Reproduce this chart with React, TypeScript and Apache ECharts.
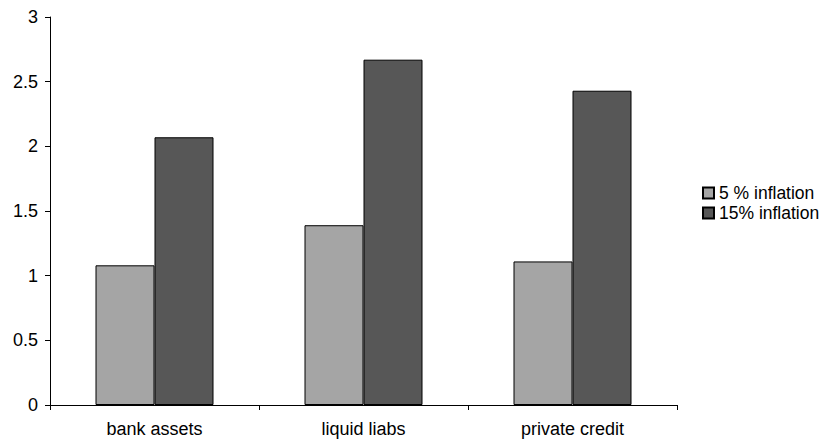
import React, { useEffect, useRef } from "react";
import * as echarts from "echarts";

const categories = ["bank assets", "liquid liabs", "private credit"];
const seriesNames = ["5 % inflation", "15% inflation"];
const inflation5 = [1.08, 1.39, 1.11];
const inflation15 = [2.07, 2.67, 2.43];
const yTicks = { min: 0, max: 3, interval: 0.5 };

export default function App() {
  const ref = useRef<HTMLDivElement>(null);
  useEffect(() => {
    if (!ref.current) return;
    const chart = echarts.init(ref.current, undefined, { renderer: "svg" });
    const font = "'Liberation Sans', Arial, sans-serif";
    chart.setOption({
      animation: false,
      backgroundColor: "#ffffff",
      grid: { left: 50, right: 156, top: 17, bottom: 40, containLabel: false },
      legend: {
        orient: "vertical",
        left: 697,
        top: 179,
        itemWidth: 11,
        itemHeight: 11,
        itemGap: 2,
        icon: "rect",
        textStyle: { fontFamily: font, fontSize: 17.5, color: "#000" },
        data: seriesNames,
      },
      xAxis: {
        type: "category",
        data: categories,
        axisLine: { lineStyle: { color: "#000", width: 1 } },
        axisTick: { show: true, alignWithLabel: false, length: 5, lineStyle: { color: "#000" } },
        axisLabel: { fontFamily: font, fontSize: 18, color: "#000", margin: 15 },
      },
      yAxis: {
        type: "value",
        min: yTicks.min,
        max: yTicks.max,
        interval: yTicks.interval,
        splitLine: { show: false },
        axisLine: { show: true, lineStyle: { color: "#000", width: 1 } },
        axisTick: { show: true, length: 5, lineStyle: { color: "#000" } },
        axisLabel: { fontFamily: font, fontSize: 18, color: "#000", margin: 12 },
      },
      series: [
        {
          name: seriesNames[0],
          type: "bar",
          data: inflation5,
          barWidth: 59,
          barGap: "0%",
          itemStyle: { color: "#a5a5a5", borderColor: "#000", borderWidth: 1 },
        },
        {
          name: seriesNames[1],
          type: "bar",
          data: inflation15,
          barWidth: 59,
          barGap: "0%",
          itemStyle: { color: "#575757", borderColor: "#000", borderWidth: 1 },
        },
      ],
    });
    return () => chart.dispose();
  }, []);
  return <div ref={ref} style={{ width: 833, height: 445, position: "absolute", left: 0, top: 0 }} />;
}
